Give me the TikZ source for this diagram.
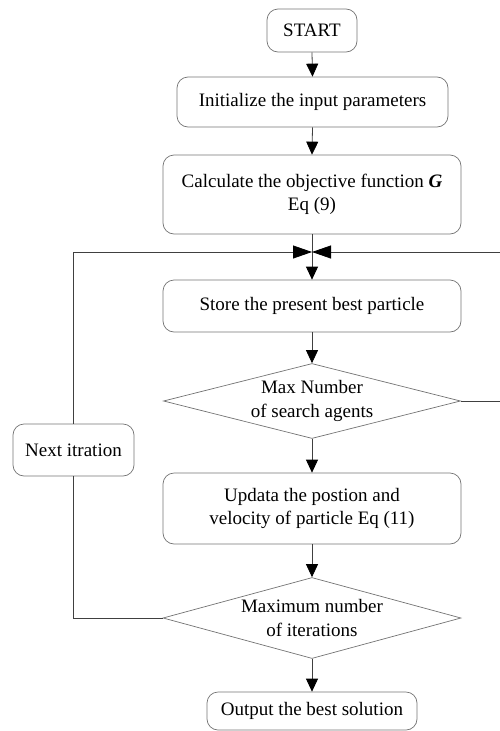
\documentclass[tikz,border=0pt]{standalone}
\usepackage{fontspec}
\setmainfont{Liberation Serif}
\usetikzlibrary{shapes.geometric,arrows.meta}

\begin{document}
\begin{tikzpicture}[x=1pt,y=-1pt,->,>={Triangle[length=13pt,width=12pt,color=black]},draw=black!75,line width=0.8pt]
    \tikzstyle{block}=[rectangle,rounded corners=11pt,draw=black!55,line width=0.7pt,align=center,inner sep=0pt,font=\fontsize{19}{23.5}\selectfont]
    \tikzstyle{decision}=[diamond,shape aspect=4,draw=black!55,line width=0.7pt,align=center,inner sep=0pt,font=\fontsize{19}{23.5}\selectfont]
    \tikzstyle{loop arrow}=[-{Triangle[length=19pt,width=13pt,color=black]}]

    \useasboundingbox (0,0) rectangle (500,731);
    \clip (0,0) rectangle (500,731);

    % Draw the main column of steps
    \node[block,minimum width=90pt,minimum height=43pt] (start) at (312,30.5) {START};
    \node[block,minimum width=271pt,minimum height=50pt] (init) at (312.5,102) {Initialize the input parameters};
    \node[block,minimum width=298pt,minimum height=79pt] (calc) at (312,194.5) {Calculate the objective function \textbf{\textit{G}}\\Eq (9)};
    \node[block,minimum width=298pt,minimum height=52pt] (store) at (312,306) {Store the present best particle};
    \node[decision,minimum width=297pt,minimum height=75pt] (agents) at (312,401) {Max Number\\of search agents};
    \node[block,minimum width=298pt,minimum height=71pt] (update) at (312,508.5) {Updata the postion and\\velocity of particle Eq (11)};
    \node[decision,minimum width=298pt,minimum height=81pt] (iter) at (312,618) {Maximum number\\of iterations};
    \node[block,minimum width=210pt,minimum height=38pt] (output) at (312,711) {Output the best solution};

    % Draw the side box of the outer loop
    \node[block,minimum width=121pt,minimum height=52pt] (next) at (73.5,450) {Next itration};

    % Where both loops come back in
    \coordinate (join) at (312,252);
    \coordinate (right) at (504,252);

    % Connect every step with the one below it
    \foreach \source/\dest in {start/init,init/calc,calc/store,store/agents,agents/update,update/iter,iter/output}
        \draw (\source.south) -- (\dest.north);

    % Outer loop over the iterations
    \draw[-] (iter.west) -| (next.south);
    \draw[loop arrow] (next.north) |- (join);

    % Inner loop over the search agents
    \draw[loop arrow] (agents.east) -| (right) -- (join);
\end{tikzpicture}
\end{document}
